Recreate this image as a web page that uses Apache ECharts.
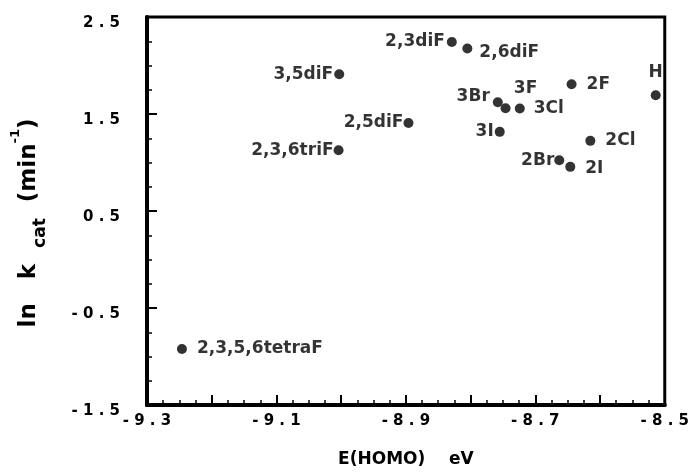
<!DOCTYPE html>
<html>
<head>
<meta charset="utf-8">
<script src="https://cdn.jsdelivr.net/npm/echarts@6/dist/echarts.min.js"></script>
<style>
html,body{margin:0;padding:0;background:#fff;}
#chart{width:692px;height:476px;}
</style>
</head>
<body>
<div id="chart"></div>
<script>
// ---- data ----
const compounds = ['2,3diF','2,6diF','3,5diF','2,5diF','2,3,6triF','2,3,5,6tetraF','3Br','3F','3Cl','3I','2F','H','2Cl','2Br','2I'];
const eHomo = [-8.829,-8.805,-9.003,-8.896,-9.004,-9.246,-8.758,-8.746,-8.724,-8.755,-8.644,-8.514,-8.615,-8.663,-8.646];
const lnKcat = [2.243,2.175,1.910,1.408,1.127,-0.922,1.622,1.560,1.557,1.316,1.807,1.694,1.223,1.024,0.955];
const xTicks = [-9.3,-9.1,-8.9,-8.7,-8.5];
const yTicks = [-1.5,-0.5,0.5,1.5,2.5];

// ---- label placement (style, kept apart from the data) ----
const labelPlace = {
  '2,3diF':        {position:'left',  distance:2},
  '2,6diF':        {position:'right', distance:7, offset:[0,4]},
  '3,5diF':        {position:'left',  distance:1},
  '2,5diF':        {position:'left',  distance:0},
  '2,3,6triF':     {position:'left',  distance:0},
  '2,3,5,6tetraF': {position:'right', distance:10},
  '3Br':           {position:'left',  distance:3, offset:[0,-6]},
  '3F':            {position:'top',   distance:6, offset:[20,0]},
  '3Cl':           {position:'right', distance:9},
  '3I':            {position:'left',  distance:1},
  '2F':            {position:'right', distance:10},
  'H':             {position:'top',   distance:9},
  '2Cl':           {position:'right', distance:10},
  '2Br':           {position:'left',  distance:0},
  '2I':            {position:'right', distance:10, offset:[0,2]}
};

const FONT = 'DejaVu Sans';
const spaced = s => s.split('').join(' ');

const chart = echarts.init(document.getElementById('chart'), null, {renderer:'canvas'});
const option = {
  animation: false,
  backgroundColor: '#fff',
  grid: {left:147, right:25, top:17, bottom:71, show:true, borderColor:'#000', borderWidth:3, backgroundColor:'transparent'},
  xAxis: {
    type:'value', min:-9.3, max:-8.5, interval:0.1,
    axisLine:{show:true, onZero:false, lineStyle:{color:'#000', width:4}},
    axisTick:{show:true, inside:true, length:10, lineStyle:{color:'#000', width:2}},
    minorTick:{show:true, splitNumber:4, length:5, lineStyle:{color:'#000', width:1.5}},
    splitLine:{show:false}, minorSplitLine:{show:false},
    axisLabel:{
      margin:9, color:'#000', fontFamily:FONT, fontWeight:'bold', fontSize:15,
      formatter: v => {
        const hit = xTicks.find(t => Math.abs(t - v) < 1e-6);
        return hit === undefined ? '' : spaced(hit.toFixed(1));
      }
    },
    name:'E(HOMO)    eV', nameLocation:'middle', nameGap:46,
    nameTextStyle:{color:'#000', fontFamily:FONT, fontWeight:'bold', fontSize:17}
  },
  yAxis: {
    type:'value', min:-1.5, max:2.5, interval:1,
    axisLine:{show:true, onZero:false, lineStyle:{color:'#000', width:4}},
    axisTick:{show:true, inside:true, length:10, lineStyle:{color:'#000', width:2}},
    minorTick:{show:true, splitNumber:4, length:5, lineStyle:{color:'#000', width:1.5}},
    splitLine:{show:false}, minorSplitLine:{show:false},
    axisLabel:{
      margin:27, color:'#000', fontFamily:FONT, fontWeight:'bold', fontSize:15,
      verticalAlign:'top', lineHeight:12,
      formatter: v => {
        const hit = yTicks.find(t => Math.abs(t - v) < 1e-6);
        return hit === undefined ? '' : spaced(hit.toFixed(1));
      }
    },
    name:'ln   k  {sub|cat}  (min{sup|-1})', nameLocation:'middle', nameGap:118, nameRotate:90,
    nameTextStyle:{
      color:'#000', fontFamily:FONT, fontWeight:'bold', fontSize:23, lineHeight:40,
      padding:[0,24,0,0], verticalAlign:'middle',
      rich:{
        sub:{fontFamily:FONT, fontWeight:'bold', fontSize:17, color:'#000', lineHeight:20, verticalAlign:'bottom'},
        sup:{fontFamily:FONT, fontWeight:'bold', fontSize:13, color:'#000', lineHeight:20, verticalAlign:'top'}
      }
    }
  },
  series: [{
    type:'scatter',
    symbol:'circle', symbolSize:10,
    itemStyle:{color:'#000'},
    label:{show:true, formatter:'{b}', color:'#000', fontFamily:FONT, fontWeight:'bold', fontSize:17},
    data: compounds.map((n, i) => ({name:n, value:[eHomo[i], lnKcat[i]], label:labelPlace[n]}))
  }]
};
chart.setOption(option);
</script>
</body>
</html>
